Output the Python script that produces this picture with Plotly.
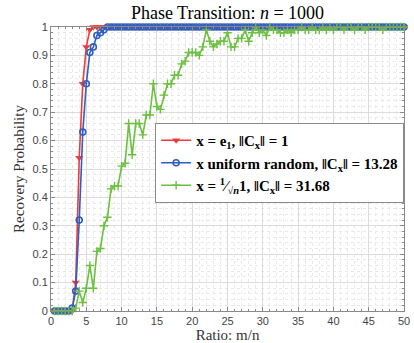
import plotly.graph_objects as go

ratio = [0.5 * (i + 1) for i in range(100)]

red_e1 = [0, 0, 0, 0, 0, 0, 0.10, 0.54, 0.80, 0.93,
          0.99, 1, 1, 1, 1, 1, 1, 1, 1, 1] + [1.0] * 80

blue_uniform = [0, 0, 0, 0, 0, 0.01, 0.07, 0.32, 0.63, 0.80,
                0.91, 0.93, 0.97, 0.98, 0.99, 1, 1, 1, 1, 1] + [1.0] * 80

green_const = [0, 0, 0, 0, 0, 0, 0.01, 0.07, 0.03, 0.08,
               0.16, 0.08, 0.21, 0.22, 0.30, 0.33, 0.43, 0.44, 0.44, 0.51,
               0.52, 0.66, 0.55, 0.66, 0.66, 0.62, 0.69, 0.69, 0.80, 0.72,
               0.71, 0.76, 0.80, 0.80, 0.83, 0.83, 0.87, 0.88, 0.91, 0.91,
               0.91, 0.90, 0.93, 0.99, 0.95, 0.93, 0.94, 0.95, 0.95, 0.98,
               0.93, 0.93, 0.96, 0.96, 0.99, 0.95, 0.98, 1.0, 0.98, 0.99,
               0.97, 1.0, 0.99, 0.99, 0.98, 0.98, 0.99, 0.98, 0.99, 0.99,
               1.0, 0.99, 0.99, 1.0, 0.99, 0.99, 1.0, 0.99, 1.0, 0.99,
               1.0, 1.0, 0.99, 1.0, 1.0, 0.99, 1.0, 1.0, 0.99, 1.0,
               1.0, 1.0, 1.0, 0.99, 1.0, 1.0, 1.0, 1.0, 1.0, 1.0]

names = [
    "<b>x = e<sub>1</sub>, ‖C<sub>x</sub>‖ = 1</b>",
    "<b>x uniform random, ‖C<sub>x</sub>‖ = 13.28</b>",
    "<b>x = <sup>1</sup>⁄<sub>√<i>n</i></sub>1, ‖C<sub>x</sub>‖ = 31.68</b>",
]

x_ticks = [0, 5, 10, 15, 20, 25, 30, 35, 40, 45, 50]
y_ticks = [0, 0.1, 0.2, 0.3, 0.4, 0.5, 0.6, 0.7, 0.8, 0.9, 1]
y_tick_text = ["0", "0.1", "0.2", "0.3", "0.4", "0.5", "0.6", "0.7", "0.8", "0.9", "1"]

RED = "#f03a3a"
BLUE = "#2f5fbf"
GREEN = "#6cc040"
SERIF = "Liberation Serif, DejaVu Serif, serif"

fig = go.Figure()
fig.add_trace(go.Scatter(
    x=ratio, y=red_e1, mode="lines+markers", name=names[0],
    line=dict(color=RED, width=1.6),
    marker=dict(symbol="triangle-down", size=7, color=RED),
    cliponaxis=False))
fig.add_trace(go.Scatter(
    x=ratio, y=blue_uniform, mode="lines+markers", name=names[1],
    line=dict(color=BLUE, width=1.6),
    marker=dict(symbol="circle-open", size=6, color=BLUE, line=dict(width=1.6)),
    cliponaxis=False))
fig.add_trace(go.Scatter(
    x=ratio, y=green_const, mode="lines+markers", name=names[2],
    line=dict(color=GREEN, width=1.6),
    marker=dict(symbol="cross-thin-open", size=6, color=GREEN, line=dict(width=1.4, color=GREEN)),
    cliponaxis=False))

axis_common = dict(
    showline=True, linecolor="#8a8a8a", linewidth=1, mirror="allticks",
    ticks="inside", ticklen=4, tickcolor="#8a8a8a",
    showgrid=True, gridcolor="#dcdcdc", gridwidth=1,
    zeroline=False, ticklabeloverflow="allow",
    tickfont=dict(family="Liberation Sans, Arial, sans-serif", size=11, color="#444"),
)

fig.update_layout(
    width=414, height=343,
    margin=dict(l=51, r=4, t=27, b=32),
    paper_bgcolor="white", plot_bgcolor="white",
    title=dict(text="Phase Transition: <i>n</i> = 1000",
               font=dict(family=SERIF, size=18, color="black"),
               x=0.5, xref="paper", xanchor="center", y=0.962, yanchor="middle"),
    xaxis=dict(range=[0, 50], tickvals=x_ticks,
               minor=dict(dtick=1, showgrid=True, gridcolor="#e9e9e9", griddash="dot",
                          ticks="inside", ticklen=2, tickcolor="#8a8a8a"),
               title=dict(text="Ratio: m/n",
                          font=dict(family=SERIF, size=15, color="#333", weight="normal"),
                          standoff=0),
               **axis_common),
    yaxis=dict(range=[0, 1], tickvals=y_ticks, ticktext=y_tick_text,
               minor=dict(dtick=0.02, showgrid=True, gridcolor="#e9e9e9", griddash="dot",
                          ticks="inside", ticklen=2, tickcolor="#8a8a8a"),
               title=dict(text="Recovery Probability",
                          font=dict(family=SERIF, size=15, color="#333", weight="normal"),
                          standoff=4),
               **axis_common),
    legend=dict(x=0.295, y=0.662, xanchor="left", yanchor="top",
                bgcolor="white", bordercolor="#8a8a8a", borderwidth=1,
                font=dict(family=SERIF, size=15, color="black"),
                itemwidth=30, tracegroupgap=0),
    showlegend=True,
)

fig.write_html("out.html", config={"displayModeBar": False},
               post_script="document.body.style.margin='0';")
